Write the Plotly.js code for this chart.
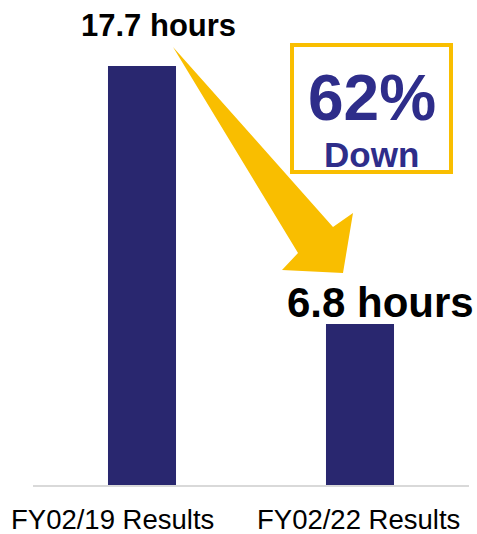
<!DOCTYPE html>
<html>
<head>
<meta charset="utf-8">
<script src="https://cdn.plot.ly/plotly-3.0.1.min.js"></script>
<style>html,body{margin:0;padding:0;background:#fff;}#chart{width:477px;height:534px;}</style>
</head>
<body>
<div id="chart"></div>
<script>
// ---- data ----
var categories = ["FY02/19 Results", "FY02/22 Results"];
var values = [17.7, 6.8];
var valueUnit = " hours";
var changeText = "62%";
var changeWord = "Down";

// ---- layout helpers (pixel -> paper for decorations) ----
var W = 477, H = 534;
var M = {l: 33, r: 8, t: 10, b: 49};
var PW = W - M.l - M.r, PH = H - M.t - M.b;
function pxX(x) { return (x - M.l) / PW; }
function pxY(y) { return (H - M.b - y) / PH; }

var navyBar = "#29276F";
var navyText = "#2E2D8A";
var gold = "#F9BE00";
var FONT = "Arial, 'Liberation Sans', sans-serif";

var trace = {
  type: "bar",
  x: categories,
  y: values,
  width: 0.312,
  marker: {color: navyBar, line: {width: 0}},
  hoverinfo: "none"
};

// value label offsets (px)
var valFont = [31, 42];
var valXShift = [16.5, 20];
var valYShift = [41, 22];
var annotations = [];
for (var i = 0; i < categories.length; i++) {
  annotations.push({
    x: categories[i], y: values[i], xref: "x", yref: "y",
    text: "<b>" + values[i] + valueUnit + "</b>",
    showarrow: false, xanchor: "center", yanchor: "middle",
    xshift: valXShift[i], yshift: valYShift[i],
    font: {family: FONT, size: valFont[i], color: "#000"}
  });
}
// category labels
var catXShift = [-29.5, -1.5];
for (var j = 0; j < categories.length; j++) {
  annotations.push({
    x: categories[j], y: 0, xref: "x", yref: "paper",
    text: categories[j], showarrow: false,
    xanchor: "center", yanchor: "middle",
    xshift: catXShift[j], yshift: -(519.5 - (H - M.b)),
    font: {family: FONT, size: 27.5, color: "#000"}
  });
}
// change box text
annotations.push({
  x: pxX(371.5), y: pxY(98), xref: "paper", yref: "paper",
  text: "<b>" + changeText + "</b>", showarrow: false,
  xanchor: "center", yanchor: "middle",
  font: {family: FONT, size: 64, color: navyText}
});
annotations.push({
  x: pxX(371), y: pxY(155), xref: "paper", yref: "paper",
  text: "<b>" + changeWord + "</b>", showarrow: false,
  xanchor: "center", yanchor: "middle",
  font: {family: FONT, size: 35, color: navyText}
});

// arrow polygon (pixels)
var arrowPts = [[173, 47], [333, 227], [353, 213], [343, 273], [282, 270], [298, 253]];
var path = arrowPts.map(function (p, k) {
  return (k === 0 ? "M" : "L") + pxX(p[0]).toFixed(5) + "," + pxY(p[1]).toFixed(5);
}).join(" ") + " Z";

var shapes = [
  {type: "rect", xref: "paper", yref: "paper",
   x0: pxX(292), x1: pxX(451), y0: pxY(172), y1: pxY(45),
   line: {color: gold, width: 4}, fillcolor: "rgba(0,0,0,0)"},
  {type: "path", xref: "paper", yref: "paper", path: path,
   fillcolor: gold, line: {width: 0}}
];

var layout = {
  width: W, height: H,
  margin: M,
  paper_bgcolor: "#fff", plot_bgcolor: "#fff",
  showlegend: false,
  xaxis: {type: "category", range: [-0.5, 1.5], showline: true, linecolor: "#D9D9D9", linewidth: 2,
          showgrid: false, zeroline: false, showticklabels: false, ticks: "", fixedrange: true},
  yaxis: {range: [0, PH * values[0] / 419], visible: false, showgrid: false, zeroline: false, fixedrange: true},
  annotations: annotations,
  shapes: shapes
};

Plotly.newPlot("chart", [trace], layout, {displayModeBar: false, staticPlot: true});
</script>
</body>
</html>
